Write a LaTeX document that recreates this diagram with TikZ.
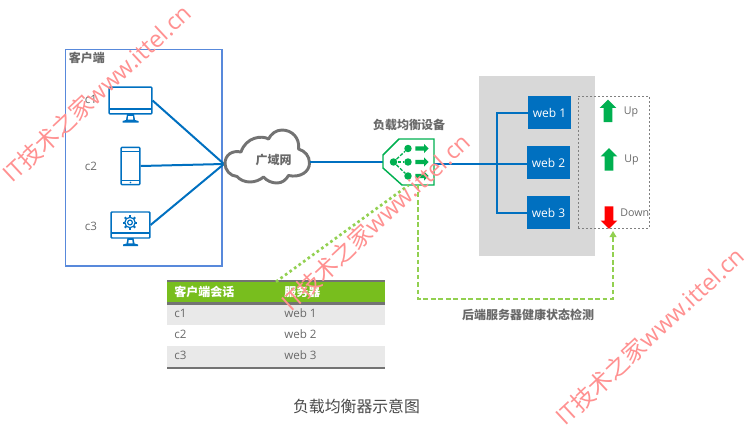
\documentclass[tikz,border=0pt]{standalone}
\usepackage{fontspec}
\setmainfont{Noto Sans CJK SC}
\newfontfamily\latinfont{Open Sans}
\usetikzlibrary{arrows.meta,shapes.arrows}

\definecolor{linkblue}{RGB}{0,112,192}
\definecolor{clientblue}{RGB}{88,137,219}
\definecolor{okgreen}{RGB}{0,176,80}
\definecolor{hintgreen}{RGB}{146,208,80}
\definecolor{headgreen}{RGB}{120,190,30}
\definecolor{textgray}{RGB}{105,105,105}
\definecolor{rulegray}{RGB}{115,115,115}
\definecolor{rowgray}{RGB}{233,233,233}
\definecolor{panelgray}{RGB}{216,216,216}
\definecolor{markred}{RGB}{255,145,145}

\tikzset{
  link/.style={draw=linkblue, line width=1.5pt},
  icon/.style={draw=linkblue, line width=1.1pt, rounded corners=0.6pt, fill=white, inner sep=0pt},
  txtlabel/.style={text=textgray, font=\latinfont\fontsize{8.7}{10}\selectfont, inner sep=0pt},
  headtext/.style={text=textgray, font=\fontsize{9}{10}\selectfont\bfseries, inner sep=0pt},
  webbox/.style={fill=linkblue, text=white, minimum width=32.5pt, minimum height=24.5pt, inner sep=0pt, font=\latinfont\fontsize{9}{10}\selectfont},
  updown/.style={single arrow, draw=none, inner sep=3pt, minimum width=12pt, minimum height=17pt, single arrow head extend=3pt, single arrow head indent=0pt},
  lbdot/.style={circle, fill=okgreen, minimum size=5.6pt, inner sep=0pt},
  lbarrow/.style={single arrow, draw=none, fill=okgreen, inner sep=1.4pt, minimum width=6.6pt, minimum height=10pt, single arrow head extend=1.9pt, single arrow head indent=0pt},
  health/.style={draw=hintgreen, line width=1.1pt, dash pattern=on 3.6pt off 2pt},
  tablerow/.style={minimum width=163.5pt, minimum height=15.75pt, inner sep=0pt},
  stamp/.style={text=markred, font=\fontsize{17.6}{20}\selectfont, rotate=43, inner sep=0pt}
}

\begin{document}
\begin{tikzpicture}[x=0.75pt, y=-0.75pt, >=Stealth, line cap=butt, line join=miter]
\useasboundingbox (0,0) rectangle (749,432);

% 客户端
\node[draw=clientblue, line width=0.8pt, minimum width=117.7pt, minimum height=162.7pt, inner sep=0pt] (clients) at (143.5,157.5) {};
\node[headtext, anchor=west] (clienttitle) at (68.5,58) {客户端};
\node[txtlabel] (c1) at (91,99) {c1};
\node[txtlabel] (c2) at (91,166) {c2};
\node[txtlabel] (c3) at (91,226) {c3};

% 终端图标
\node[icon, minimum width=32pt, minimum height=20pt] (pc1) at (130.5,100.5) {};
\node[icon, minimum width=14pt, minimum height=28pt] (phone) at (130.5,166) {};
\node[icon, minimum width=29pt, minimum height=19.5pt] (pc3) at (130.5,225) {};
\draw[linkblue, line width=0.9pt] (109,109) -- (152,109) (130.5,114) -- (130.5,120);
\fill[linkblue] (127,114) -- (134,114) -- (135,120) -- (138.5,121) -- (138.5,122.5) -- (122.5,122.5) -- (122.5,121) -- (126,120) -- cycle;
\fill[white] (128.2,116) -- (132.8,116) -- (133.2,119.6) -- (127.8,119.6) -- cycle;
\draw[linkblue, line width=0.7pt] (121,151) -- (140,151) (121,180) -- (140,180);
\fill[linkblue] (130.5,182.5) circle (0.8);
\draw[linkblue, line width=0.9pt] (111,233) -- (150,233);
\fill[linkblue] (127.5,238) -- (133.5,238) -- (134.5,243.5) -- (138,244.5) -- (138,246) -- (123,246) -- (123,244.5) -- (126.5,243.5) -- cycle;
\fill[white] (128.7,240) -- (132.3,240) -- (132.7,243.3) -- (128.3,243.3) -- cycle;
% 齿轮
\draw[linkblue, line width=0.9pt] (130,222.5) circle (5.2);
\draw[linkblue, line width=0.9pt] (130,222.5) circle (2.4);
\foreach \a in {0,45,...,315} {
  \draw[linkblue, line width=1.5pt] (130,222.5) ++(\a:5.2) -- ++(\a:2.2);
}

% 广域网
\coordinate (hub) at (224,164);
\draw[link] (pc1.east) -- (hub);
\draw[link] (phone.east) -- (hub);
\draw[link] (pc3.east) -- (hub);
\node[minimum width=63.75pt, minimum height=39.75pt, inner sep=0pt] (wan) at (267.5,156.5) {};
\draw[rulegray, line width=2.2pt, fill=white, line join=round]
  (241,152) .. controls (232,150) and (225,155) .. (225,163.5)
  .. controls (225,170) and (230,176) .. (237,176.5)
  .. controls (240,180) and (245,182) .. (250,182)
  .. controls (255,182) and (260,180) .. (263.5,177)
  .. controls (267,181) and (272,183) .. (277,183)
  .. controls (282,183) and (286,180) .. (288.5,175.5)
  .. controls (300,178) and (309.5,172) .. (309.5,163)
  .. controls (309.5,156) and (305,151) .. (298.5,149)
  .. controls (300,138) and (292,130) .. (282,130)
  .. controls (276,130) and (271,134) .. (268.5,139)
  .. controls (262,135) and (246,137) .. (241,152) -- cycle;
\node[headtext] (wantitle) at (273.5,159.5) {广域网};

% 负载均衡设备
\node[minimum width=38.25pt, minimum height=34.5pt, inner sep=0pt] (lb) at (408.5,162) {};
\node[headtext] (lbtitle) at (409,125) {负载均衡设备};
\draw[link] (wan.east |- lb.west) -- (lb.west);
\fill[white] (399,139) -- (434,139) -- (434,185) -- (402,185) -- (383,168) -- (383,155) -- cycle;
\draw[okgreen, line width=1.1pt] (399,139) -- (434,139) -- (434,185) -- (402,185) -- (383,168) -- (383,155) -- cycle;
\node[lbdot] (d0) at (393.5,162) {};
\node[lbdot] (d1) at (408,148.5) {};
\node[lbdot] (d2) at (408,162) {};
\node[lbdot] (d3) at (408,176) {};
\foreach \i in {1,2,3} {
  \draw[okgreen, line width=1pt, dash pattern=on 2.6pt off 1.2pt] (d0) -- (d\i);
}
\node[lbarrow] (a1) at (421,148.5) {};
\node[lbarrow] (a2) at (421,162) {};
\node[lbarrow] (a3) at (421,176) {};

% 服务器
\fill[panelgray] (479,76) rectangle (595,256);
\node[webbox] (web1) at (549.5,112.5) {web 1};
\node[webbox] (web2) at (548.5,162.5) {web 2};
\node[webbox] (web3) at (548.5,212.5) {web 3};
\coordinate (bus) at (497,164);
\draw[link] (lb.east |- bus) -- (web2.west |- bus);
\draw[link] (web1.west) -| (bus);
\draw[link] (web3.west) -| (bus);

% 健康检测
\node[draw=gray, line width=0.7pt, dash pattern=on 1.8pt off 1.2pt, minimum width=53.25pt, minimum height=99pt, inner sep=0pt] (probe) at (613.5,162) {};
\node[updown, fill=okgreen, shape border rotate=90] (s1) at (608,113) {};
\node[updown, fill=okgreen, shape border rotate=90] (s2) at (609,161.5) {};
\node[updown, fill=red, shape border rotate=270] (s3) at (609,215.5) {};
\node[txtlabel, anchor=west, font=\latinfont\fontsize{8}{10}\selectfont] at (623.5,112) {Up};
\node[txtlabel, anchor=west, font=\latinfont\fontsize{8}{10}\selectfont] at (624,160) {Up};
\node[txtlabel, anchor=west, font=\latinfont\fontsize{8}{10}\selectfont] at (620,213) {Down};
\coordinate (hstart) at (418,185);
\coordinate (hend) at (613,231);
\draw[health, -{Triangle[length=4.5pt,width=5pt]}] (hstart) -- ++(0,114) -| (hend);
\node[headtext] (healthtitle) at (528,315) {后端服务器健康状态检测};

% 会话表
\foreach \i/\c/\w/\f in {1/c1/web 1/rowgray, 2/c2/web 2/white, 3/c3/web 3/rowgray} {
  \node[tablerow, fill=\f] (row\i) at (276,{314.5+21*(\i-1)}) {};
  \node[txtlabel, anchor=west] at (174,{313.5+21*(\i-1)}) {\c};
  \node[txtlabel, anchor=west] at (284,{313.5+21*(\i-1)}) {\w};
}
\node[tablerow, fill=headgreen] (thead) at (276,292.5) {};
\node[headtext, text=white, anchor=west] at (174,292) {客户端会话};
\node[headtext, text=white, anchor=west] at (284,292) {服务器};
\draw[rulegray, line width=1.6pt] (167,281) -- (385,281) (167,303.5) -- (385,303.5) (167,368) -- (385,368);
\draw[hintgreen, line width=2pt, dash pattern=on 2pt off 2.2pt] (thead.north) -- (lb.south);

\node[text=textgray!70!black, font=\fontsize{11.9}{13}\selectfont, inner sep=0pt] (caption) at (356.5,406) {负载均衡器示意图};

% 水印
\foreach \x/\y in {97/93, 376/222, 650/336} {
  \node[stamp] at (\x,\y) {{\latinfont IT}技术之家{\latinfont www.ittel.cn}};
}
\end{tikzpicture}
\end{document}
